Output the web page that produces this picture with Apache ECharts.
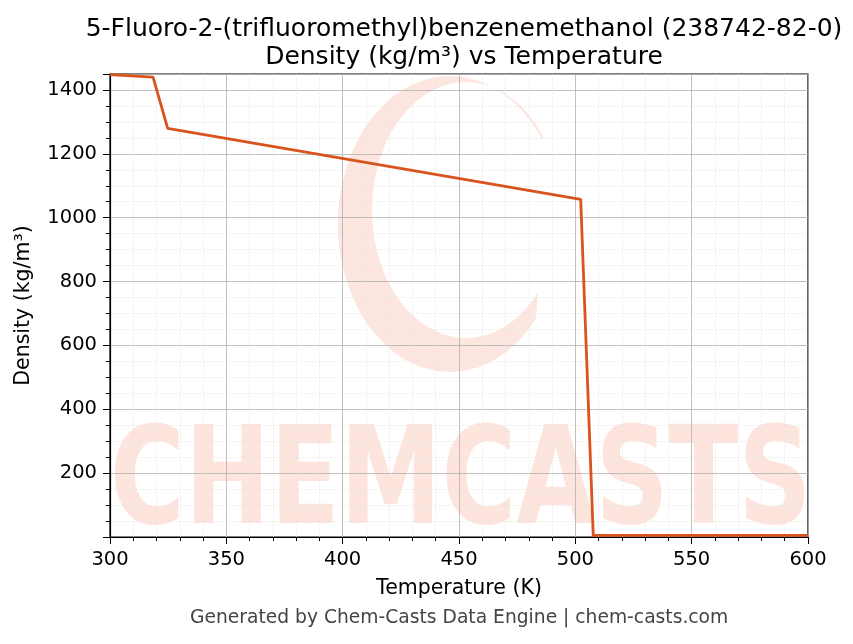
<!DOCTYPE html>
<html><head><meta charset="utf-8">
<script src="https://cdn.jsdelivr.net/npm/echarts@6/dist/echarts.min.js"></script>
<style>html,body{margin:0;padding:0;background:#fff}#c{width:853px;height:644px}</style>
</head><body><div id="c"></div>
<script>
const temperatures = [300, 318.5, 324.8, 502.3, 507.7, 600];
const densities = [1448, 1440, 1280, 1057.6, 5, 5];
const xTicks = [300, 350, 400, 450, 500, 550, 600];
const yTicks = [200, 400, 600, 800, 1000, 1200, 1400];
const titleLines = ['5-Fluoro-2-(trifluoromethyl)benzenemethanol (238742-82-0)', 'Density (kg/m³) vs Temperature'];

const font = '"DejaVu Sans"';

// watermark crescent (decoration only)
function crescent() {
  const pts = [];
  const o = {cx: 450, cy: 224, rx: 112, ry: 148};
  const n = {cx: 466, cy: 210, rx: 94, ry: 128};
  for (let a = -35; a >= -320; a -= 5) {
    const r = a * Math.PI / 180;
    pts.push([o.cx + o.rx * Math.cos(r), o.cy + o.ry * Math.sin(r)]);
  }
  for (let a = -320; a <= -35; a += 5) {
    const r = a * Math.PI / 180;
    pts.push([n.cx + n.rx * Math.cos(r), n.cy + n.ry * Math.sin(r)]);
  }
  return pts;
}

const chart = echarts.init(document.getElementById('c'), null, {renderer: 'canvas'});
chart.setOption({
  animation: false,
  backgroundColor: '#fff',
  title: {
    text: titleLines.join('\n'), left: 459, top: 10, textAlign: 'center',
    textStyle: {fontFamily: font, fontSize: 25, fontWeight: 'normal', color: '#000', lineHeight: 28}
  },
  graphic: [
    {type: 'polygon', z: 0, shape: {points: crescent()},
     style: {fill: 'rgba(250,195,180,0.42)'}},
    {type: 'text', z: 0, left: 110, top: 420, scaleX: 0.75,
     style: {text: 'CHEMCASTS', font: 'bold 136px "DejaVu Sans"', fill: 'rgba(250,190,175,0.42)'}},
    {type: 'text', left: 190, top: 609,
     style: {text: 'Generated by Chem-Casts Data Engine | chem-casts.com', font: '18.7px "DejaVu Sans"', fill: '#444'}}
  ],
  grid: {left: 110, right: 45, top: 74, bottom: 107, show: true, borderColor: '#000', borderWidth: 1.2, backgroundColor: 'transparent'},
  xAxis: {
    type: 'value', min: 300, max: 600, interval: 50,
    name: 'Temperature (K)', nameLocation: 'middle', nameGap: 41,
    nameTextStyle: {fontFamily: font, fontSize: 20.5, color: '#000'},
    axisLine: {lineStyle: {color: '#000', width: 1.2}},
    axisTick: {show: true, length: 7, lineStyle: {color: '#000'}},
    minorTick: {show: true, splitNumber: 5, length: 4, lineStyle: {color: '#000'}},
    axisLabel: {fontFamily: font, fontSize: 19.5, color: '#000', margin: 13,
      formatter: v => xTicks.includes(v) ? String(v) : ''},
    splitLine: {show: true, lineStyle: {color: '#b0b0b0', width: 0.8}},
    minorSplitLine: {show: true, lineStyle: {color: '#e4e4e4', width: 0.6, type: 'dashed'}}
  },
  yAxis: {
    type: 'value', min: 0, max: 1450, interval: 200,
    name: 'Density (kg/m³)', nameLocation: 'middle', nameGap: 76,
    nameTextStyle: {fontFamily: font, fontSize: 20.5, color: '#000'},
    axisLine: {show: true, lineStyle: {color: '#000', width: 1.2}},
    axisTick: {show: true, length: 7, lineStyle: {color: '#000'}},
    minorTick: {show: true, splitNumber: 4, length: 4, lineStyle: {color: '#000'}},
    axisLabel: {fontFamily: font, fontSize: 19.5, color: '#000', margin: 13, showMaxLabel: false,
      formatter: v => yTicks.includes(v) ? String(v) : ''},
    splitLine: {show: true, lineStyle: {color: '#b0b0b0', width: 0.8}},
    minorSplitLine: {show: true, lineStyle: {color: '#e4e4e4', width: 0.6, type: 'dashed'}}
  },
  series: [{
    type: 'line', data: temperatures.map((t, i) => [t, densities[i]]),
    showSymbol: false, lineStyle: {color: '#d9531e', width: 2.8}, z: 5
  }]
});
</script></body></html>
